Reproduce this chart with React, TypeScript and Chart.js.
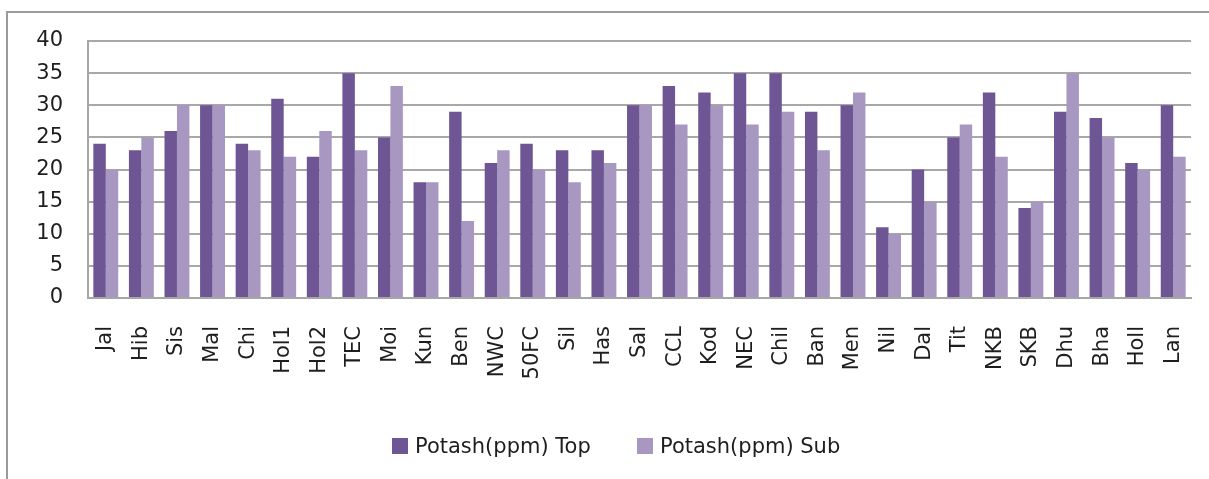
import React, { useEffect, useRef } from "react";
import { Chart, registerables } from "chart.js";

Chart.register(...registerables);

const categories = [
  "Jal", "Hib", "Sis", "Mal", "Chi", "Hol1", "Hol2", "TEC", "Moi", "Kun",
  "Ben", "NWC", "50FC", "Sil", "Has", "Sal", "CCL", "Kod", "NEC", "Chil",
  "Ban", "Men", "Nil", "Dal", "Tit", "NKB", "SKB", "Dhu", "Bha", "Holl", "Lan",
];

const potashTop = [
  24, 23, 26, 30, 24, 31, 22, 35, 25, 18,
  29, 21, 24, 23, 23, 30, 33, 32, 35, 35,
  29, 30, 11, 20, 25, 32, 14, 29, 28, 21, 30,
];

const potashSub = [
  20, 25, 30, 30, 23, 22, 26, 23, 33, 18,
  12, 23, 20, 18, 21, 30, 27, 30, 27, 29,
  23, 32, 10, 15, 27, 22, 15, 35, 25, 20, 22,
];

const seriesNames = ["Potash(ppm) Top", "Potash(ppm) Sub"];
const seriesColors = ["#6e5593", "#a797c1"];
const yTicks = [0, 5, 10, 15, 20, 25, 30, 35, 40];

const FONT = "'DejaVu Sans', sans-serif";
const TEXT = "#1e1e1e";

export default function App() {
  const canvasRef = useRef<HTMLCanvasElement | null>(null);

  useEffect(() => {
    const canvas = canvasRef.current;
    if (!canvas) return;
    const chart = new Chart(canvas, {
      type: "bar",
      data: {
        labels: categories,
        datasets: [
          {
            label: seriesNames[0],
            data: potashTop,
            backgroundColor: seriesColors[0],
            categoryPercentage: 0.7,
            barPercentage: 1.0,
          },
          {
            label: seriesNames[1],
            data: potashSub,
            backgroundColor: seriesColors[1],
            categoryPercentage: 0.7,
            barPercentage: 1.0,
          },
        ],
      },
      options: {
        animation: false,
        responsive: false,
        maintainAspectRatio: false,
        layout: { padding: { left: 0, right: 18, top: 41, bottom: 0 } },
        plugins: {
          tooltip: { enabled: false },
          legend: { display: false },
        },
        scales: {
          x: {
            grid: { display: false, drawTicks: false },
            border: { display: true, color: "#a6a6a6", width: 2 },
            ticks: {
              color: TEXT,
              font: { family: FONT, size: 21 },
              minRotation: 90,
              maxRotation: 90,
              autoSkip: false,
              padding: 28,
            },
            afterFit: (scale: any) => {
              scale.height = 181;
              scale.paddingLeft = 0;
              scale.paddingRight = 0;
            },
          },
          y: {
            min: 0,
            max: 40,
            afterBuildTicks: (scale: any) => {
              scale.ticks = yTicks.map((v) => ({ value: v }));
            },
            grid: { color: "#a8a8a8", lineWidth: 2, drawTicks: false },
            border: { display: true, color: "#a6a6a6", width: 2 },
            ticks: {
              color: TEXT,
              font: { family: FONT, size: 21 },
              padding: 25,
            },
            afterFit: (scale: any) => {
              scale.width = 88;
              scale.paddingTop = 0;
              scale.paddingBottom = 0;
            },
          },
        },
      },
    });
    return () => chart.destroy();
  }, []);

  const legendItems = [
    { name: seriesNames[0], color: seriesColors[0], left: 392 },
    { name: seriesNames[1], color: seriesColors[1], left: 637 },
  ];

  return (
    <div
      style={{
        position: "fixed",
        left: 0,
        top: 0,
        width: 1209,
        height: 479,
        background: "#fff",
        overflow: "hidden",
      }}
    >
      <div
        style={{
          position: "absolute",
          left: 6,
          top: 11,
          width: 1260,
          height: 520,
          borderLeft: "2px solid #9a9a9a",
          borderTop: "2px solid #9a9a9a",
        }}
      />
      <canvas
        ref={canvasRef}
        width={1209}
        height={479}
        style={{ position: "absolute", left: 0, top: 0 }}
      />
      {legendItems.map((item) => (
        <div
          key={item.name}
          style={{
            position: "absolute",
            left: item.left,
            top: 432,
            height: 28,
            display: "flex",
            alignItems: "center",
            fontFamily: FONT,
            fontSize: 21,
            color: TEXT,
            whiteSpace: "nowrap",
          }}
        >
          <span
            style={{
              display: "inline-block",
              width: 16,
              height: 16,
              background: item.color,
              marginRight: 7,
            }}
          />
          <span>{item.name}</span>
        </div>
      ))}
    </div>
  );
}
